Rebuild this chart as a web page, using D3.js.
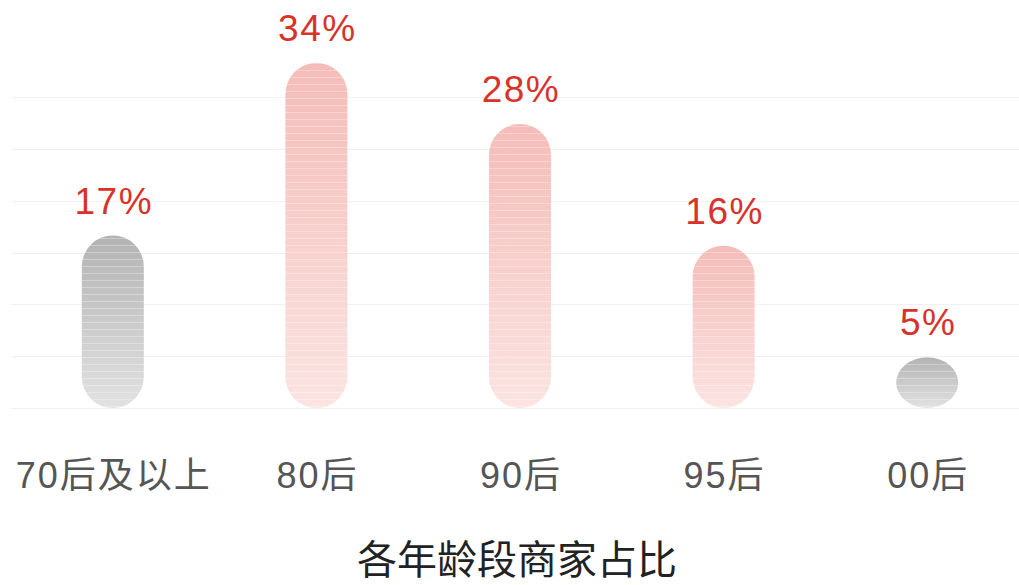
<!DOCTYPE html>
<html>
<head>
<meta charset="utf-8">
<script src="https://cdn.jsdelivr.net/npm/d3@7"></script>
<style>
  html, body { margin: 0; padding: 0; background: #fff; }
  svg { display: block; }
</style>
</head>
<body>
<div id="chart"></div>
<script>
// data
var categories = ["70后及以上", "80后", "90后", "95后", "00后"];
var shares = [17, 34, 28, 16, 5];
var valueLabels = ["17%", "34%", "28%", "16%", "5%"];
var barTone = ["gray", "pink", "pink", "pink", "gray"];
var title = "各年龄段商家占比";

var svgWidth = 1019;
var svgHeight = 585;
var baseY = 408;
var topY = 97;
var barWidth = 62;

var svg = d3.select("#chart")
    .append("svg")
    .attr("width", svgWidth)
    .attr("height", svgHeight)
    .style("font-family", "'Liberation Sans', 'Noto Sans CJK SC', sans-serif");

var defs = svg.append("defs");

// gradients for the two bar tones
var tones = {
    gray: ["#b3b3b3", "#e2e2e2"],
    pink: ["#f4bcb8", "#fbe4e2"]
};
Object.keys(tones).forEach(function(k) {
    var g = defs.append("linearGradient")
        .attr("id", "grad-" + k)
        .attr("x1", 0).attr("y1", 0).attr("x2", 0).attr("y2", 1);
    g.append("stop").attr("offset", "0%").attr("stop-color", tones[k][0]);
    g.append("stop").attr("offset", "100%").attr("stop-color", tones[k][1]);
});

// faint horizontal stripes over the bars
var stripes = defs.append("pattern")
    .attr("id", "stripes")
    .attr("patternUnits", "userSpaceOnUse")
    .attr("width", 10)
    .attr("height", 7);
stripes.append("rect")
    .attr("x", 0).attr("y", 0)
    .attr("width", 10).attr("height", 1)
    .attr("fill", "#fff")
    .attr("fill-opacity", 0.3);

// scales
var x = d3.scaleBand()
    .domain(categories)
    .range([11, 1029])
    .padding(0);

var y = d3.scaleLinear()
    .domain([0, 30.65])
    .range([baseY, topY]);

// grid lines (6 splits)
var gridVals = d3.range(7).map(function(i) { return i * 30.65 / 6; });
svg.append("g")
    .selectAll("line")
    .data(gridVals)
    .enter()
    .append("line")
    .attr("x1", 12)
    .attr("x2", svgWidth)
    .attr("y1", function(d) { return Math.round(y(d)) + 0.5; })
    .attr("y2", function(d) { return Math.round(y(d)) + 0.5; })
    .attr("stroke", "#f1f1f1")
    .attr("stroke-width", 1);

var bars = svg.append("g")
    .selectAll("g")
    .data(shares)
    .enter()
    .append("g");

bars.append("rect")
    .attr("x", function(d, i) { return x(categories[i]) + x.bandwidth() / 2 - barWidth / 2; })
    .attr("y", function(d) { return y(d); })
    .attr("width", barWidth)
    .attr("height", function(d) { return baseY - y(d); })
    .attr("rx", barWidth / 2)
    .attr("ry", barWidth / 2)
    .attr("fill", function(d, i) { return "url(#grad-" + barTone[i] + ")"; });

bars.append("rect")
    .attr("x", function(d, i) { return x(categories[i]) + x.bandwidth() / 2 - barWidth / 2; })
    .attr("y", function(d) { return y(d); })
    .attr("width", barWidth)
    .attr("height", function(d) { return baseY - y(d); })
    .attr("rx", barWidth / 2)
    .attr("ry", barWidth / 2)
    .attr("fill", "url(#stripes)");

// value labels
bars.append("text")
    .attr("x", function(d, i) { return x(categories[i]) + x.bandwidth() / 2 + 1; })
    .attr("y", function(d) { return y(d) - 22; })
    .attr("text-anchor", "middle")
    .attr("font-size", "37px")
    .attr("letter-spacing", "1.5px")
    .attr("fill", "#d8322a")
    .text(function(d, i) { return valueLabels[i]; });

// category labels
svg.append("g")
    .selectAll("text")
    .data(categories)
    .enter()
    .append("text")
    .attr("x", function(d) { return x(d) + x.bandwidth() / 2 + 1; })
    .attr("y", 488)
    .attr("text-anchor", "middle")
    .attr("font-size", "36px")
    .attr("letter-spacing", "2px")
    .attr("fill", "#555")
    .text(function(d) { return d; });

// title
svg.append("text")
    .attr("x", 517)
    .attr("y", 574)
    .attr("text-anchor", "middle")
    .attr("font-size", "40px")
    .attr("fill", "#222")
    .text(title);
</script>
</body>
</html>
